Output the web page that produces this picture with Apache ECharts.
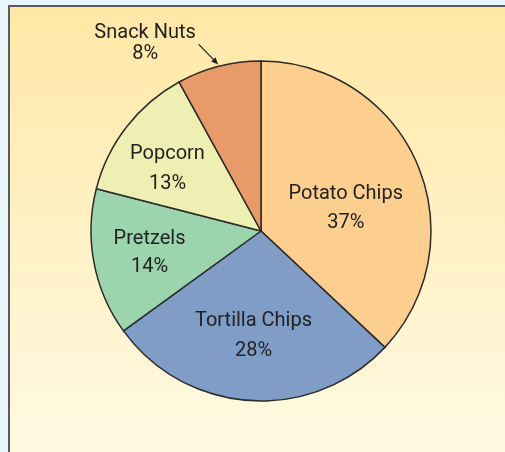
<!DOCTYPE html>
<html>
<head>
<meta charset="utf-8">
<style>
  html, body { margin: 0; padding: 0; background: #e9f5fd; }
  #chart { width: 505px; height: 452px; }
</style>
<script src="https://cdn.jsdelivr.net/npm/echarts@6/dist/echarts.min.js"></script>
</head>
<body>
<div id="chart"></div>
<script>
// Snack food sales share
const categories = ['Potato Chips', 'Tortilla Chips', 'Pretzels', 'Popcorn', 'Snack Nuts'];
const shares = [37, 28, 14, 13, 8];
const sliceColors = ['#fdcf8f', '#7f9dc7', '#9bd4ad', '#eef0b3', '#e99a69'];

// label nudges relative to the default inside-label anchor
const labelOffsets = [[4, 12], [-2, 17], [-25, 6], [-24, -8], [-94, -102]];
const labelLineHeights = [29, 30, 28, 30, 21];

const CX = 261, CY = 231, R = 170;

const chart = echarts.init(document.getElementById('chart'), null, { renderer: 'canvas' });

const total = shares.reduce((a, b) => a + b, 0);
// mid angle (degrees clockwise from 12 o'clock) of a slice
function midAngle(i) {
  let before = 0;
  for (let k = 0; k < i; k++) before += shares[k];
  return (before + shares[i] / 2) / total * 360;
}

// pointer from the "Snack Nuts" caption to its slice
const nutsIdx = categories.indexOf('Snack Nuts');
const a = midAngle(nutsIdx) * Math.PI / 180;
const tip = [CX + (R + 2) * Math.sin(a), CY - (R + 2) * Math.cos(a)];
const tail = [tip[0] - 19.5, tip[1] - 20];
const dx = tip[0] - tail[0], dy = tip[1] - tail[1];
const len = Math.hypot(dx, dy), ux = dx / len, uy = dy / len;
const headLen = 7, headW = 3;
const base = [tip[0] - ux * headLen, tip[1] - uy * headLen];
const head = [
  tip,
  [base[0] - uy * headW, base[1] + ux * headW],
  [base[0] + uy * headW, base[1] - ux * headW]
];

const data = categories.map((name, i) => ({
  name: name,
  value: shares[i],
  itemStyle: { color: sliceColors[i] },
  label: {
    offset: labelOffsets[i],
    lineHeight: labelLineHeights[i]
  }
}));

chart.setOption({
  animation: false,
  backgroundColor: '#e9f5fd',
  graphic: [
    {
      type: 'rect',
      z: -10,
      shape: { x: 9, y: 6, width: 540, height: 500 },
      style: {
        fill: new echarts.graphic.LinearGradient(0, 0, 0, 1, [
          { offset: 0, color: '#ffe8a6' },
          { offset: 1, color: '#fffcea' }
        ]),
        stroke: '#5b5b5b',
        lineWidth: 2
      },
      silent: true
    },
    {
      type: 'line',
      z: 100,
      shape: { x1: tail[0], y1: tail[1], x2: base[0], y2: base[1] },
      style: { stroke: '#222', lineWidth: 1.3 },
      silent: true
    },
    {
      type: 'polygon',
      z: 100,
      shape: { points: head },
      style: { fill: '#222' },
      silent: true
    }
  ],
  series: [{
    type: 'pie',
    center: [CX, CY],
    radius: R,
    startAngle: 90,
    clockwise: true,
    silent: true,
    data: data,
    itemStyle: { borderColor: '#2b2b2b', borderWidth: 1.5 },
    label: {
      show: true,
      position: 'inside',
      formatter: '{b}\n{c}%',
      color: '#222',
      fontFamily: 'Roboto',
      fontSize: 20,
      align: 'center',
      verticalAlign: 'middle'
    },
    labelLine: { show: false },
    emphasis: { disabled: true }
  }]
});
</script>
</body>
</html>
